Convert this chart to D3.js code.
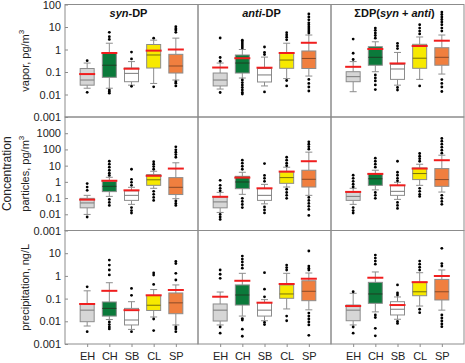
<!DOCTYPE html>
<html>
<head>
<meta charset="utf-8">
<script src="https://cdn.jsdelivr.net/npm/d3@7"></script>
<style>
  body { margin: 0; background: #fff; }
  svg { display: block; font-family: Arial, "Liberation Sans", sans-serif; }
</style>
</head>
<body>
<svg id="chart" width="465" height="363"></svg>
<script>
// categories and panel labels
const categories = ["EH", "CH", "SB", "CL", "SP"];
const rowLabels = ["vapor, pg/m", "particles, pg/m", "precipitation, ng/L"];
const rowLabelSup = ["3", "3", ""];

// y axes (log), top tick of rows 2 and 3 is not labelled
const yDomains = [[0.001, 100], [0.001, 10000], [0.001, 100]];
const yTickValues = [
  [0.001, 0.01, 0.1, 1, 10, 100],
  [0.001, 0.01, 0.1, 1, 10, 100, 1000],
  [0.001, 0.01, 0.1, 1, 10]
];
const yTickLabels = [
  ["0.001", "0.01", "0.1", "1", "10", "100"],
  ["0.001", "0.01", "0.1", "1", "10", "100", "1000"],
  ["0.001", "0.01", "0.1", "1", "10"]
];

// box stats: lo/hi = whisker ends, mean = red line, out = outliers
const vaporSyn = [
  { lo: 0.019, q1: 0.026, med: 0.044, q3: 0.143, hi: 0.25, mean: 0.081, out: [0.32, 0.0125] },
  { lo: 0.019, q1: 0.058, med: 0.2, q3: 0.68, hi: 1.9, mean: 0.7, out: [2.8, 3.7, 5.8, 0.0158, 0.0135, 0.0114] },
  { lo: 0.026, q1: 0.037, med: 0.087, q3: 0.15, hi: 0.29, mean: 0.14, out: [0.38, 0.77, 0.023] },
  { lo: 0.031, q1: 0.15, med: 0.57, q3: 1.67, hi: 2.6, mean: 0.89, out: [3.2, 0.022] },
  { lo: 0.044, q1: 0.09, med: 0.185, q3: 0.61, hi: 3.2, mean: 1.0, out: [5.8, 7.3, 8.4, 10.3, 0.037, 0.032, 0.024] }
];
const vaporAnti = [
  { lo: 0.0175, q1: 0.024, med: 0.044, q3: 0.09, hi: 0.25, mean: 0.158, out: [0.3, 0.44, 3.25, 0.0123] },
  { lo: 0.054, q1: 0.09, med: 0.25, q3: 0.57, hi: 1.0, mean: 0.41, out: [1.17, 1.43, 1.76, 2.15, 2.6, 0.044, 0.034, 0.0265, 0.0205, 0.016, 0.0123, 0.0105] },
  { lo: 0.024, q1: 0.036, med: 0.074, q3: 0.143, hi: 0.46, mean: 0.155, out: [0.6, 0.75, 1.29, 0.013] },
  { lo: 0.051, q1: 0.146, med: 0.34, q3: 0.68, hi: 1.9, mean: 0.7, out: [2.7, 3.5, 4.4, 5.6, 0.042, 0.024] },
  { lo: 0.066, q1: 0.143, med: 0.4, q3: 0.86, hi: 4.4, mean: 1.99, out: [5.4, 6.6, 8.1, 10, 12.6, 15.3, 20.9, 27.8, 37.8, 0.047, 0.031, 0.0215, 0.0143] }
];
const vaporSum = [
  { lo: 0.0133, q1: 0.037, med: 0.062, q3: 0.103, hi: 0.29, mean: 0.17, out: [0.36, 0.68, 2.9] },
  { lo: 0.103, q1: 0.2, med: 0.45, q3: 1.33, hi: 2.2, mean: 1.05, out: [3.2, 4.2, 5.4, 7.1, 9.0, 0.074, 0.054, 0.04, 0.0266, 0.0166] },
  { lo: 0.026, q1: 0.047, med: 0.136, q3: 0.22, hi: 0.74, mean: 0.24, out: [1.1, 1.43, 1.89, 0.0205, 0.0158] },
  { lo: 0.047, q1: 0.146, med: 0.41, q3: 1.7, hi: 3.6, mean: 1.43, out: [4.9, 6.6, 9.0, 12.6, 0.024] },
  { lo: 0.081, q1: 0.2, med: 0.45, q3: 1.2, hi: 4.4, mean: 2.46, out: [6.6, 9.0, 12.6, 16.7, 21.5, 27.8, 36, 46, 0.046, 0.031, 0.0215, 0.0136] }
];

const particlesSyn = [
  { lo: 0.0098, q1: 0.025, med: 0.05, q3: 0.096, hi: 0.147, mean: 0.08, out: [0.3, 0.48, 0.78, 0.0068] },
  { lo: 0.127, q1: 0.25, med: 0.53, q3: 1.08, hi: 1.91, mean: 1.17, out: [2.5, 3.4, 5.2, 8.0, 12.3, 18.7, 0.083, 0.054, 0.035] },
  { lo: 0.041, q1: 0.072, med: 0.147, q3: 0.28, hi: 0.46, mean: 0.3, out: [0.61, 0.94, 1.44, 6.0, 0.026, 0.017, 0.012] },
  { lo: 0.4, q1: 0.61, med: 1.34, q3: 2.8, hi: 4.5, mean: 2.37, out: [6.0, 8.7, 12.3, 17.4, 0.26, 0.17, 0.11, 0.072] },
  { lo: 0.092, q1: 0.165, med: 0.46, q3: 1.83, hi: 15, mean: 6.6, out: [33, 48, 67, 95, 144, 0.067, 0.047, 0.035] }
];
const particlesAnti = [
  { lo: 0.013, q1: 0.025, med: 0.058, q3: 0.115, hi: 0.225, mean: 0.12, out: [0.28, 0.4, 0.61, 1.25, 0.0098, 0.0069, 0.0048] },
  { lo: 0.17, q1: 0.38, med: 0.98, q3: 2.2, hi: 3.9, mean: 1.83, out: [6.0, 9.2, 14.2, 21.6, 0.096, 0.062, 0.04, 0.026] },
  { lo: 0.044, q1: 0.072, med: 0.147, q3: 0.38, hi: 0.7, mean: 0.4, out: [1.08, 1.65, 2.5, 13.5, 0.0285, 0.0186, 0.0121] },
  { lo: 0.48, q1: 0.81, med: 1.83, q3: 4.1, hi: 8.0, mean: 4.3, out: [9.9, 14.2, 21.6, 33, 0.35, 0.22, 0.147, 0.096] },
  { lo: 0.147, q1: 0.48, med: 1.44, q3: 5.2, hi: 68, mean: 18.7, out: [104, 148, 211, 293, 0.11, 0.072, 0.047, 0.031, 0.02, 0.0085] }
];
const particlesSum = [
  { lo: 0.041, q1: 0.072, med: 0.127, q3: 0.235, hi: 0.4, mean: 0.24, out: [0.49, 0.71, 1.08, 1.65, 2.55, 0.026, 0.017, 0.012] },
  { lo: 0.32, q1: 0.61, med: 1.55, q3: 3.25, hi: 5.2, mean: 3.1, out: [8.0, 12.3, 18.7, 28.7, 0.22, 0.147, 0.096] },
  { lo: 0.083, q1: 0.147, med: 0.26, q3: 0.61, hi: 0.94, mean: 0.61, out: [1.15, 1.65, 2.55, 3.9, 18.7, 0.054, 0.035, 0.023] },
  { lo: 0.61, q1: 1.38, med: 3.25, q3: 7.2, hi: 12.2, mean: 6.6, out: [18.7, 27, 38, 56, 0.4, 0.26, 0.17, 0.127] },
  { lo: 0.235, q1: 0.53, med: 1.38, q3: 6.6, hi: 44, mean: 21.6, out: [59, 90, 138, 211, 324, 476, 0.147, 0.096, 0.062, 0.041] }
];

const precipSyn = [
  { lo: 0.0062, q1: 0.0096, med: 0.031, q3: 0.058, hi: 0.22, mean: 0.058, out: [0.33, 0.0035] },
  { lo: 0.012, q1: 0.017, med: 0.037, q3: 0.071, hi: 0.5, mean: 0.22, out: [1.1, 1.82, 3.0, 5.0, 0.0093, 0.0072, 0.0056, 0.0046] },
  { lo: 0.0044, q1: 0.0069, med: 0.0114, q3: 0.037, hi: 0.073, mean: 0.031, out: [0.14, 0.28, 0.0035] },
  { lo: 0.0155, q1: 0.03, med: 0.051, q3: 0.137, hi: 0.25, mean: 0.14, out: [0.42, 1.09, 1.34, 0.0126, 0.0039] },
  { lo: 0.0069, q1: 0.0216, med: 0.065, q3: 0.177, hi: 0.4, mean: 0.24, out: [0.66, 1.3, 3.5, 4.3, 0.0056, 0.0046, 0.0035] }
];
const precipAnti = [
  { lo: 0.0069, q1: 0.0103, med: 0.031, q3: 0.058, hi: 0.195, mean: 0.121, out: [0.78, 1.18, 1.82, 0.0056, 0.003] },
  { lo: 0.017, q1: 0.052, med: 0.144, q3: 0.4, hi: 1.3, mean: 0.61, out: [2.2, 3.0, 4.1, 5.5, 7.5, 0.0132, 0.0114, 0.0045, 0.0022] },
  { lo: 0.0106, q1: 0.017, med: 0.031, q3: 0.066, hi: 0.09, mean: 0.066, out: [0.12, 0.26, 1.38, 0.0089, 0.0072] },
  { lo: 0.035, q1: 0.103, med: 0.16, q3: 0.4, hi: 1.3, mean: 0.44, out: [1.82, 2.33, 3.0, 0.017, 0.0106] },
  { lo: 0.032, q1: 0.081, med: 0.21, q3: 0.61, hi: 1.34, mean: 0.75, out: [1.82, 2.2, 2.7, 12.5, 0.023, 0.017, 0.0126, 0.0093, 0.0069, 0.0024] }
];
const precipSum = [
  { lo: 0.0069, q1: 0.0106, med: 0.031, q3: 0.052, hi: 0.171, mean: 0.047, out: [0.2, 0.0056, 0.003] },
  { lo: 0.026, q1: 0.062, med: 0.16, q3: 0.52, hi: 1.49, mean: 0.83, out: [3.3, 4.5, 6.1, 8.3, 0.019, 0.0147, 0.0049, 0.0023] },
  { lo: 0.0123, q1: 0.019, med: 0.034, q3: 0.073, hi: 0.118, mean: 0.052, out: [0.144, 0.177, 0.4, 0.0098, 0.0081] },
  { lo: 0.047, q1: 0.134, med: 0.2, q3: 0.52, hi: 1.38, mean: 0.53, out: [1.8, 2.4, 3.3, 4.5, 0.034, 0.024] },
  { lo: 0.031, q1: 0.087, med: 0.2, q3: 0.7, hi: 1.82, mean: 0.99, out: [2.7, 3.5, 16.4, 0.019, 0.014, 0.0103, 0.0076, 0.0058] }
];

const panels = [
  [vaporSyn, vaporAnti, vaporSum],
  [particlesSyn, particlesAnti, particlesSum],
  [precipSyn, precipAnti, precipSum]
];

const fills = ["#d6d6d6", "#0b7a3b", "#ffffff", "#f7e900", "#f07f3f"];
const medianColors = ["#7a7a7a", "#1f3f24", "#7a7a7a", "#77700a", "#8a4a28"];

// layout
const colX = [65, 198, 331, 464];
const rowY = [4.5, 117, 230.5, 344];
const boxW = 14;
const gray = "#8c8c8c";

const svg = d3.select("#chart");

// panels
panels.forEach((row, r) => {
  const y = d3.scaleLog().domain(yDomains[r]).range([rowY[r + 1], rowY[r]]);

  row.forEach((stats, c) => {
    const x = d3.scalePoint().domain(categories).range([colX[c], colX[c + 1]]).padding(1);
    const g = svg.append("g");

    stats.forEach((d, i) => {
      const cx = x(categories[i]);
      const bg = g.append("g");
      // whiskers
      bg.append("line").attr("x1", cx).attr("x2", cx).attr("y1", y(d.hi)).attr("y2", y(d.q3))
        .attr("stroke", gray).attr("stroke-width", 1);
      bg.append("line").attr("x1", cx).attr("x2", cx).attr("y1", y(d.q1)).attr("y2", y(d.lo))
        .attr("stroke", gray).attr("stroke-width", 1);
      [d.hi, d.lo].forEach(v => {
        bg.append("line").attr("x1", cx - 3.5).attr("x2", cx + 3.5).attr("y1", y(v)).attr("y2", y(v))
          .attr("stroke", gray).attr("stroke-width", 1);
      });
      // box
      bg.append("rect")
        .attr("x", cx - boxW / 2).attr("width", boxW)
        .attr("y", y(d.q3)).attr("height", y(d.q1) - y(d.q3))
        .attr("fill", fills[i]).attr("stroke", gray).attr("stroke-width", 1);
      bg.append("line").attr("x1", cx - boxW / 2).attr("x2", cx + boxW / 2)
        .attr("y1", y(d.med)).attr("y2", y(d.med))
        .attr("stroke", medianColors[i]).attr("stroke-width", 1);
      // mean
      bg.append("line").attr("x1", cx - boxW / 2 - 1).attr("x2", cx + boxW / 2 + 1)
        .attr("y1", y(d.mean)).attr("y2", y(d.mean))
        .attr("stroke", "#f01e1e").attr("stroke-width", 2);
      // outliers
      bg.selectAll("circle").data(d.out).join("circle")
        .attr("cx", cx).attr("cy", v => y(v)).attr("r", 1.4).attr("fill", "#000");
    });

    // frame
    g.append("rect")
      .attr("x", colX[c]).attr("y", rowY[r])
      .attr("width", colX[c + 1] - colX[c]).attr("height", rowY[r + 1] - rowY[r])
      .attr("fill", "none").attr("stroke", gray).attr("stroke-width", 1);

    if (r === 2) {
      const ax = svg.append("g").attr("transform", "translate(0," + rowY[3] + ")")
        .call(d3.axisBottom(x).tickSize(3).tickPadding(5));
      ax.select(".domain").remove();
      ax.selectAll("line").attr("stroke", gray);
      ax.selectAll("text").attr("font-size", 11).attr("font-family", null).attr("fill", "#222");
    }
  });

  const ay = svg.append("g").attr("transform", "translate(" + colX[0] + ",0)")
    .call(d3.axisLeft(y).tickValues(yTickValues[r]).tickFormat((d, i) => yTickLabels[r][i])
      .tickSizeInner(-3).tickSizeOuter(0).tickPadding(4));
  ay.select(".domain").remove();
  ay.selectAll("line").attr("stroke", gray);
  ay.selectAll("text").attr("font-size", 11).attr("font-family", null).attr("fill", "#222");

  // row label
  const t = svg.append("text")
    .attr("transform", "translate(29," + ((rowY[r] + rowY[r + 1]) / 2) + ") rotate(-90)")
    .attr("text-anchor", "middle").attr("font-size", 11).attr("fill", "#222")
    .text(rowLabels[r]);
  if (rowLabelSup[r]) {
    t.append("tspan").attr("font-size", 8).attr("dy", -5).text(rowLabelSup[r]);
  }
});

svg.append("text")
  .attr("transform", "translate(11," + ((rowY[1] + rowY[2]) / 2) + ") rotate(-90)")
  .attr("text-anchor", "middle").attr("font-size", 12).attr("fill", "#222")
  .text("Concentration");

// column titles
const titleParts = [
  [["syn", true], ["-DP", false]],
  [["anti", true], ["-DP", false]],
  [["ΣDP(", false], ["syn", true], [" + ", false], ["anti", true], [")", false]]
];
titleParts.forEach((parts, c) => {
  const tt = svg.append("text")
    .attr("x", (colX[c] + colX[c + 1]) / 2 - 3).attr("y", 17)
    .attr("text-anchor", "middle").attr("font-size", 11).attr("font-weight", "bold").attr("fill", "#111");
  parts.forEach(p => tt.append("tspan").attr("font-style", p[1] ? "italic" : "normal").text(p[0]));
});
</script>
</body>
</html>
